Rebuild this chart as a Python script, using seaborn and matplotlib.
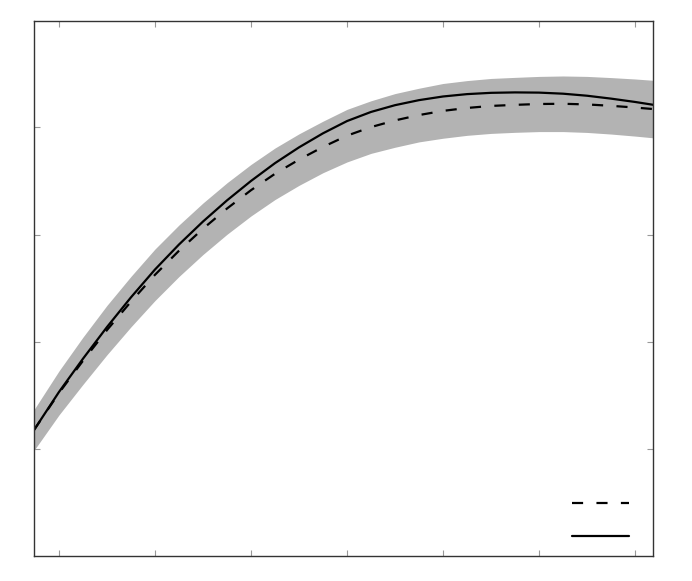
import matplotlib
matplotlib.use("Agg")
import matplotlib.pyplot as plt
import seaborn as sns
import pandas as pd

# values
x_vals = [-0.26, 0, 0.25, 0.5, 0.75, 1, 1.25, 1.5, 1.75, 2, 2.25, 2.5, 2.75,
          3, 3.25, 3.5, 3.75, 4, 4.25, 4.5, 4.75, 5, 5.25, 5.5, 5.75, 6, 6.2]
solid_vals = [0.180, 0.534, 0.844, 1.139, 1.416, 1.675, 1.908, 2.122, 2.319,
              2.500, 2.666, 2.813, 2.944, 3.058, 3.143, 3.206, 3.253, 3.287,
              3.309, 3.321, 3.325, 3.323, 3.313, 3.294, 3.267, 3.236, 3.208]
dashed_vals = [0.180, 0.525, 0.825, 1.111, 1.376, 1.626, 1.850, 2.055, 2.243,
               2.414, 2.567, 2.699, 2.817, 2.922, 3.002, 3.064, 3.114, 3.153,
               3.180, 3.199, 3.209, 3.217, 3.219, 3.213, 3.200, 3.184, 3.169]
band_hw = [0.19, 0.205, 0.22, 0.23, 0.235, 0.24, 0.24, 0.24, 0.24, 0.24, 0.24,
           0.24, 0.24, 0.245, 0.245, 0.25, 0.25, 0.255, 0.255, 0.256, 0.256,
           0.257, 0.259, 0.261, 0.263, 0.266, 0.268]
x_ticks = [0, 1, 2, 3, 4, 5, 6]
y_ticks = [0, 1, 2, 3]

df = pd.DataFrame({"x": x_vals, "solid": solid_vals, "dashed": dashed_vals,
                   "hw": band_hw})

sns.set_style("ticks")
fig = plt.figure(figsize=(6.92, 5.81), dpi=100)
ax = fig.add_axes([34.3 / 692, 25 / 581, 619 / 692, 535.3 / 581])

# grey band round the dashed curve
ax.fill_between(df["x"], df["dashed"] - df["hw"], df["dashed"] + df["hw"],
                color="#b3b3b3", linewidth=0)

sns.lineplot(data=df, x="x", y="dashed", ax=ax, color="black", lw=1.6,
             label=" ")
sns.lineplot(data=df, x="x", y="solid", ax=ax, color="black", lw=1.6,
             label=" ")
ax.lines[0].set_dashes((5, 6))

ax.set_xlim(-0.257, 6.19)
ax.set_ylim(-0.994, 3.993)
ax.set_xticks(x_ticks)
ax.set_yticks(y_ticks)
ax.set_xticklabels([])
ax.set_yticklabels([])
ax.set_xlabel("")
ax.set_ylabel("")
ax.tick_params(direction="in", length=4.3, width=0.8, color="#999999",
               top=True, right=True)
for sp in ax.spines.values():
    sp.set_color("#333333")
    sp.set_linewidth(1.0)

ax.legend(loc="lower right", frameon=False, handlelength=4.1,
          handletextpad=0.0, labelspacing=1.33, bbox_to_anchor=(0.988, 0.0))

fig.savefig("out.png", dpi=100)
